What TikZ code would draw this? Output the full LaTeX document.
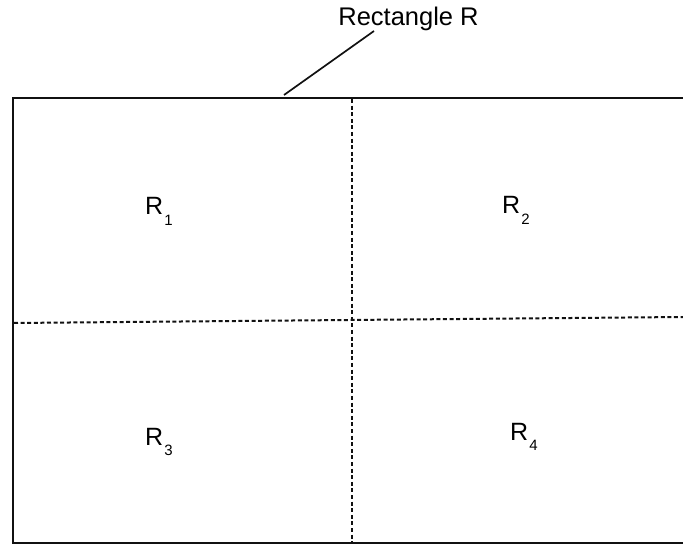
\documentclass[tikz,border=0pt]{standalone}
\usepackage{fontspec}
\setmainfont{Liberation Sans}
\usepackage{tikz}
\usetikzlibrary{positioning}
\definecolor{SheetInk}{HTML}{111111}
\newcommand{\partsub}[1]{\hspace{1pt}\raisebox{-10.5pt}{\fontsize{15}{18}\selectfont #1}}
\tikzset{
  cut/.style={SheetInk, line width=2pt, dash pattern=on 4pt off 2.6pt},
  part/.style={font=\fontsize{25}{30}\selectfont, inner sep=0pt, anchor=base west}
}
\begin{document}
\begin{tikzpicture}[x=1pt, y=-1pt, font=\fontsize{25.5}{30}\selectfont]
  \useasboundingbox (0,0) rectangle (683,545);
  % outer rectangle, right side runs off the page
  \draw[SheetInk, line width=2pt] (692,98) -- (13,98) -- (13,543) -- (692,543);
  % label with its leader
  \node[inner sep=0pt] (rectlabel) at (408.5,19) {Rectangle R};
  \coordinate (leaderstart) at (374,31);
  \coordinate (leaderend) at (284,95);
  \draw[SheetInk, line width=1.7pt] (leaderstart) -- (leaderend);
  % the four parts
  \draw[cut] (352,99) -- (352,543);
  \draw[cut] (14,323) -- (683,317);
  \node[part] (r1) at (145,215) {R\partsub{1}};
  \node[part] (r2) at (502,214) {R\partsub{2}};
  \node[part] (r3) at (145,445) {R\partsub{3}};
  \node[part] (r4) at (510,440) {R\partsub{4}};
\end{tikzpicture}
\end{document}
